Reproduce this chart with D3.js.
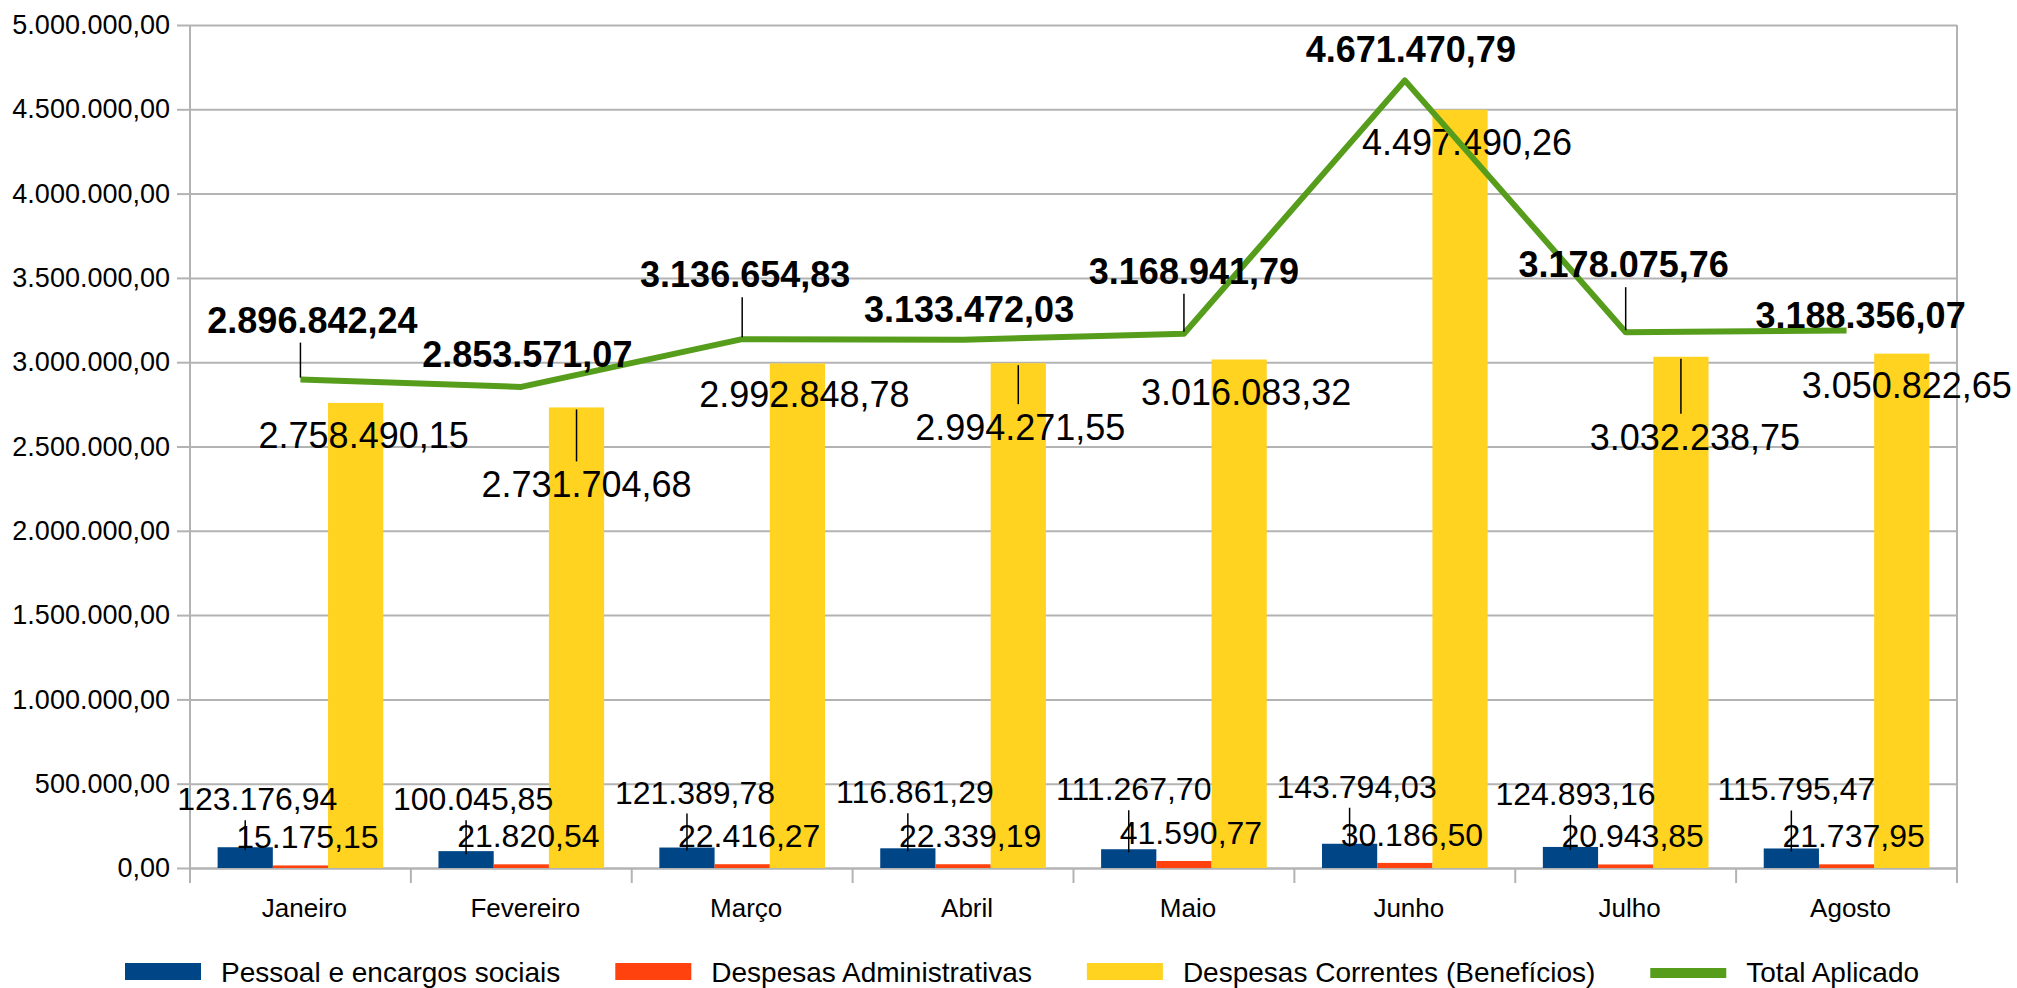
<!DOCTYPE html>
<html>
<head>
<meta charset="utf-8">
<script src="https://cdn.jsdelivr.net/npm/d3@7"></script>
<style>
  body { margin: 0; background: #fff; }
  svg text { font-family: "Liberation Sans", Arial, sans-serif; fill: #000; }
</style>
</head>
<body>
<div id="chart"></div>
<script>
const months = ["Janeiro", "Fevereiro", "Março", "Abril", "Maio", "Junho", "Julho", "Agosto"];
const pessoal = [123176.94, 100045.85, 121389.78, 116861.29, 111267.70, 143794.03, 124893.16, 115795.47];
const administrativas = [15175.15, 21820.54, 22416.27, 22339.19, 41590.77, 30186.50, 20943.85, 21737.95];
const correntes = [2758490.15, 2731704.68, 2992848.78, 2994271.55, 3016083.32, 4497490.26, 3032238.75, 3050822.65];
const totalAplicado = [2896842.24, 2853571.07, 3136654.83, 3133472.03, 3168941.79, 4671470.79, 3178075.76, 3188356.07];
const yTicks = [0, 500000, 1000000, 1500000, 2000000, 2500000, 3000000, 3500000, 4000000, 4500000, 5000000];
const seriesNames = ["Pessoal e encargos sociais", "Despesas Administrativas", "Despesas Correntes (Benefícios)", "Total Aplicado"];

// label nudges (px from the data point), the original had hand-moved labels
const totalDx = [12, 6, 3, 6, 10, 6, -2, 14];
const totalDy = [-47, -20, -52, -18, -50, -18, -55, -2];
const corrDx = [8, 10, 7, 2, 7, 7, 14, 5];
const corrDy = [45, 90, 44, 77, 46, 45, 93, 44];
const pesDx = [12, 7, 8, 7, 5, 7, 5, 5];
const pesDy = [-37, -41, -44, -45, -49, -46, -42, -48];

const colors = ["#004586", "#ff420e", "#ffd320", "#579d1c"];
const width = 2017, height = 988;
const margin = { top: 25, right: 60, bottom: 120, left: 190 };
const grid = "#b3b3b3";

const br = d3.formatLocale({ decimal: ",", thousands: ".", grouping: [3], currency: ["R$ ", ""] });
const fmt = br.format(",.2f");

const svg = d3.select("#chart").append("svg")
  .attr("width", width)
  .attr("height", height);

const x0 = d3.scaleBand()
  .domain(months)
  .range([margin.left, width - margin.right])
  .padding(0);

const barKeys = [0, 1, 2];
const x1 = d3.scaleBand()
  .domain(barKeys)
  .range([0, x0.bandwidth()])
  .paddingInner(0)
  .paddingOuter(0.5);

const y = d3.scaleLinear()
  .domain([0, 5000000])
  .range([height - margin.bottom, margin.top]);

const x0r = width - margin.right;
const y0 = y(0);

// grid
svg.append("g")
  .attr("transform", `translate(${margin.left},0)`)
  .call(d3.axisLeft(y).tickValues(yTicks).tickSize(-(x0r - margin.left)).tickFormat(""))
  .call(g => g.select(".domain").remove())
  .call(g => g.selectAll("line").attr("stroke", grid).attr("stroke-width", 2));

// right border of plot
svg.append("line")
  .attr("x1", x0r).attr("x2", x0r)
  .attr("y1", y(5000000)).attr("y2", y0 + 15)
  .attr("stroke", grid).attr("stroke-width", 2);

// y axis
svg.append("g")
  .attr("transform", `translate(${margin.left},0)`)
  .call(d3.axisLeft(y).tickValues(yTicks).tickSize(13).tickPadding(7).tickFormat(fmt))
  .call(g => g.select(".domain").remove())
  .call(g => g.selectAll("line").attr("stroke", grid).attr("stroke-width", 2))
  .call(g => g.selectAll("text").attr("font-size", "27px").attr("fill", "#000")
    .attr("font-family", "Liberation Sans, Arial, sans-serif"));

svg.append("line")
  .attr("x1", margin.left).attr("x2", margin.left)
  .attr("y1", y(5000000)).attr("y2", y0 + 15)
  .attr("stroke", grid).attr("stroke-width", 2);

// x axis
svg.append("g")
  .attr("transform", `translate(0,${y0})`)
  .call(d3.axisBottom(x0).tickSize(0).tickPadding(31))
  .call(g => g.select(".domain").attr("stroke", grid).attr("stroke-width", 2))
  .call(g => g.selectAll("text").attr("font-size", "26px").attr("fill", "#000").attr("dx", 4)
    .attr("font-family", "Liberation Sans, Arial, sans-serif"));

svg.append("g")
  .selectAll("line")
  .data(months.slice(1))
  .join("line")
    .attr("x1", d => x0(d)).attr("x2", d => x0(d))
    .attr("y1", y0).attr("y2", y0 + 15)
    .attr("stroke", grid).attr("stroke-width", 2);

// bars
const barSeries = [pessoal, administrativas, correntes];
const rows = [];
barSeries.forEach((vals, s) => vals.forEach((v, i) => rows.push({ s, i, v })));

svg.append("g")
  .selectAll("rect")
  .data(rows)
  .join("rect")
    .attr("x", d => x0(months[d.i]) + x1(d.s))
    .attr("y", d => y(d.v))
    .attr("width", x1.bandwidth())
    .attr("height", d => y0 - y(d.v))
    .attr("fill", d => colors[d.s]);

const cx = (i, s) => x0(months[i]) + x1(s) + x1.bandwidth() / 2;

function leader(g, x, ya, yb) {
  g.append("line")
    .attr("x1", x).attr("x2", x)
    .attr("y1", ya).attr("y2", yb)
    .attr("stroke", "#000").attr("stroke-width", 1.5);
}

// bar labels
const labels = svg.append("g").attr("text-anchor", "middle");

pessoal.forEach((v, i) => {
  const px = cx(i, 0), py = y(v);
  const base = py + pesDy[i];
  leader(labels, px, base + 10, py + 3);
  labels.append("text")
    .attr("x", px + pesDx[i]).attr("y", base)
    .attr("font-size", "32px")
    .text(fmt(v));
});

administrativas.forEach((v, i) => {
  const px = cx(i, 1), py = y(v);
  labels.append("text")
    .attr("x", px + 7).attr("y", py - 17)
    .attr("font-size", "32px")
    .text(fmt(v));
});

correntes.forEach((v, i) => {
  const px = cx(i, 2), py = y(v);
  const base = py + corrDy[i];
  if (corrDy[i] > 60) leader(labels, px, py + 2, base - 36);
  labels.append("text")
    .attr("x", px + corrDx[i]).attr("y", base)
    .attr("font-size", "36px")
    .text(fmt(v));
});

// total line
const line = d3.line()
  .x((d, i) => x0(months[i]) + x0.bandwidth() / 2)
  .y(d => y(d));

svg.append("path")
  .datum(totalAplicado)
  .attr("d", line)
  .attr("fill", "none")
  .attr("stroke", colors[3])
  .attr("stroke-width", 6)
  .attr("stroke-linejoin", "round");

const tl = svg.append("g").attr("text-anchor", "middle");
totalAplicado.forEach((v, i) => {
  const px = x0(months[i]) + x0.bandwidth() / 2, py = y(v);
  const base = py + totalDy[i];
  if (totalDy[i] < -30) leader(tl, px, base + 10, py - 2);
  tl.append("text")
    .attr("x", px + totalDx[i]).attr("y", base)
    .attr("font-size", "36px")
    .attr("font-weight", "bold")
    .text(fmt(v));
});

// legend
const legend = svg.append("g").attr("transform", "translate(125,0)");
let lx = 0;
seriesNames.forEach((name, s) => {
  const item = legend.append("g").attr("transform", `translate(${lx},0)`);
  if (s < 3) {
    item.append("rect").attr("x", 0).attr("y", 963).attr("width", 76).attr("height", 17).attr("fill", colors[s]);
  } else {
    item.append("rect").attr("x", 0).attr("y", 968).attr("width", 76).attr("height", 10).attr("fill", colors[s]);
  }
  const t = item.append("text")
    .attr("x", 96).attr("y", 982)
    .attr("font-size", "28px")
    .text(name);
  lx += 96 + t.node().getComputedTextLength() + 55;
});
</script>
</body>
</html>
